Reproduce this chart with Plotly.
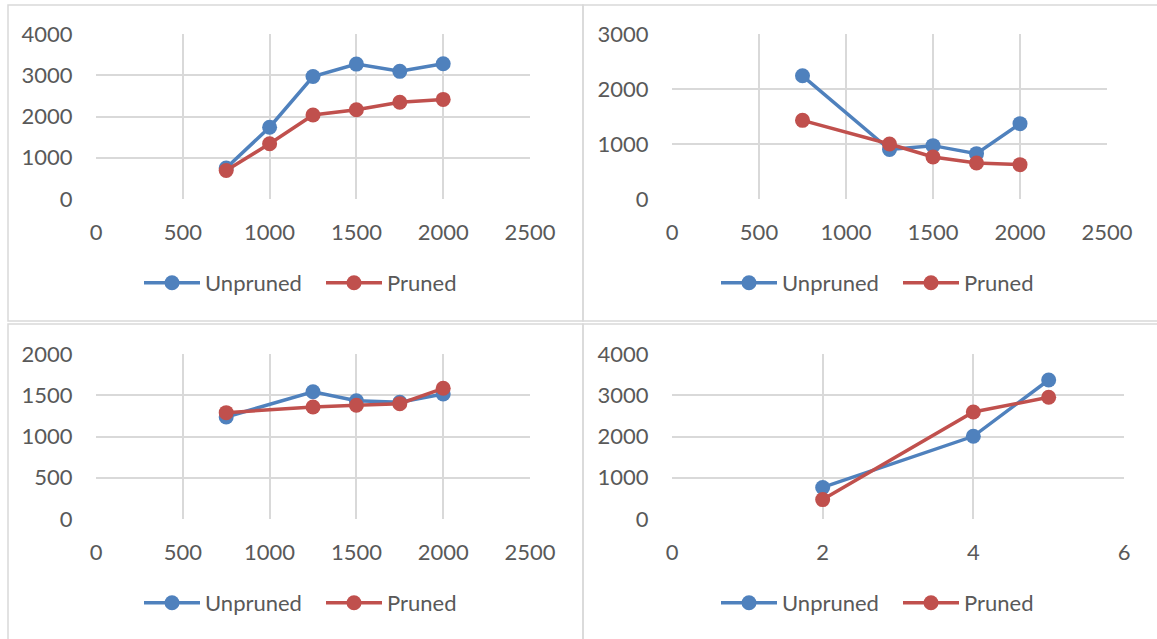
import plotly.graph_objects as go

W, H = 1157, 639

# ---- data ----
p1_x = [750, 1000, 1250, 1500, 1750, 2000]
p1_unpruned = [750, 1740, 2970, 3270, 3095, 3280]
p1_pruned = [690, 1340, 2035, 2165, 2345, 2415]

p2_x = [750, 1250, 1500, 1750, 2000]
p2_unpruned = [2240, 900, 970, 825, 1370]
p2_pruned = [1430, 1000, 765, 655, 625]

p3_x = [750, 1250, 1500, 1750, 2000]
p3_unpruned = [1236, 1543, 1434, 1414, 1515]
p3_pruned = [1289, 1358, 1378, 1398, 1584]

p4_x = [2, 4, 5]
p4_unpruned = [765, 2005, 3370]
p4_pruned = [470, 2595, 2950]

series_names = ["Unpruned", "Pruned"]
BLUE = "#4F81BD"
RED = "#C0504D"
TEXT = "#595959"
GRID = "#D9D9D9"
FONT = "Lato"
FS = 22

def px(x):
    return x / W

def py(y):
    return 1 - y / H

fig = go.Figure()

panels = [
    dict(x=p1_x, u=p1_unpruned, p=p1_pruned, xr=[0, 2500], xd=500, yr=[0, 4000], yd=1000,
         dom_x=(96, 530), dom_y=(34, 199), leg=(139, 283)),
    dict(x=p2_x, u=p2_unpruned, p=p2_pruned, xr=[0, 2500], xd=500, yr=[0, 3000], yd=1000,
         dom_x=(672, 1107), dom_y=(34, 199), leg=(716, 283)),
    dict(x=p3_x, u=p3_unpruned, p=p3_pruned, xr=[0, 2500], xd=500, yr=[0, 2000], yd=500,
         dom_x=(96, 530), dom_y=(354, 519), leg=(139, 603)),
    dict(x=p4_x, u=p4_unpruned, p=p4_pruned, xr=[0, 6], xd=2, yr=[0, 4000], yd=1000,
         dom_x=(672, 1124), dom_y=(354, 519), leg=(716, 603)),
]

layout = {}
for i, pn in enumerate(panels, start=1):
    sfx = "" if i == 1 else str(i)
    legname = "legend" if i == 1 else f"legend{i}"
    for name, vals, col in [(series_names[0], pn["u"], BLUE), (series_names[1], pn["p"], RED)]:
        fig.add_trace(go.Scatter(
            x=pn["x"], y=vals, name=name, mode="lines+markers",
            line=dict(color=col, width=3.5),
            marker=dict(color=col, size=15),
            xaxis=f"x{sfx}", yaxis=f"y{sfx}", legend=legname,
        ))
    layout[f"xaxis{sfx}"] = dict(
        domain=[px(pn["dom_x"][0]), px(pn["dom_x"][1])], anchor=f"y{sfx}",
        range=pn["xr"], dtick=pn["xd"], tick0=0, showgrid=True, gridcolor=GRID, gridwidth=1.5,
        zeroline=False, showline=False, ticks="outside", ticklen=14, tickcolor="rgba(0,0,0,0)",
        tickfont=dict(family=FONT, size=FS, color=TEXT), fixedrange=True,
    )
    layout[f"yaxis{sfx}"] = dict(
        domain=[py(pn["dom_y"][1]), py(pn["dom_y"][0])], anchor=f"x{sfx}",
        range=pn["yr"], dtick=pn["yd"], tick0=0, showgrid=True, gridcolor=GRID, gridwidth=1.5,
        zeroline=False, showline=False, ticks="outside", ticklen=18, tickcolor="rgba(0,0,0,0)",
        tickfont=dict(family=FONT, size=FS, color=TEXT), fixedrange=True,
    )
    layout[legname] = dict(
        orientation="h", x=px(pn["leg"][0]), y=py(pn["leg"][1]),
        xanchor="left", yanchor="middle", itemwidth=56,
        entrywidth=111, entrywidthmode="pixels",
        font=dict(family=FONT, size=FS, color=TEXT), bgcolor="rgba(0,0,0,0)",
        tracegroupgap=0, itemclick=False, itemdoubleclick=False,
    )

# panel frames
frames = [(8, 5, 583, 321), (583, 5, 1170, 321), (8, 324, 583, 650), (583, 324, 1170, 650)]
shapes = []
for (x0, y0, x1, y1) in frames:
    shapes.append(dict(type="rect", xref="paper", yref="paper",
                       x0=px(x0), x1=px(x1), y0=py(y1), y1=py(y0),
                       line=dict(color=GRID, width=1.5), fillcolor="rgba(0,0,0,0)", layer="below"))

fig.update_layout(
    width=W, height=H, margin=dict(l=0, r=0, t=0, b=0, pad=0, autoexpand=False),
    paper_bgcolor="white", plot_bgcolor="white",
    showlegend=True, shapes=shapes,
    font=dict(family=FONT, color=TEXT),
    **layout,
)

fig.write_html(
    "out.html",
    config={"displayModeBar": False},
    post_script="document.body.style.margin='0';document.body.style.padding='0';"
                "document.body.style.overflow='hidden';document.documentElement.style.overflow='hidden';",
)
